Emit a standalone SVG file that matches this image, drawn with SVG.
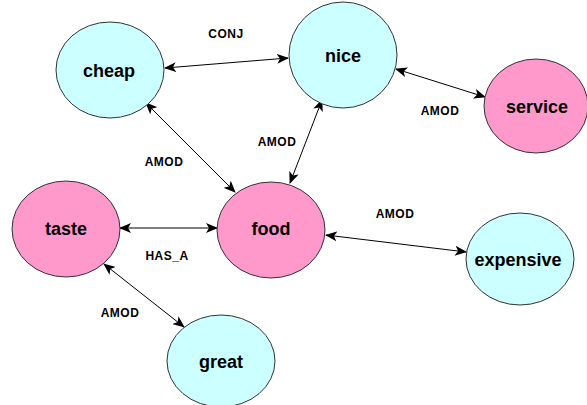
<svg xmlns="http://www.w3.org/2000/svg" width="587" height="405" viewBox="0 0 587 405">
<style>
.n{stroke:#333;stroke-width:1}
.c{fill:#ccffff}
.p{fill:#ff99cc}
.t{font-family:"Liberation Sans",Arial,sans-serif;font-weight:bold;font-size:18px;fill:#000;text-anchor:middle}
.l{font-family:"Liberation Sans",Arial,sans-serif;font-weight:bold;font-size:12px;fill:#000;text-anchor:middle;letter-spacing:0.5px}
.e{stroke:#000;stroke-width:1;fill:none;marker-start:url(#a);marker-end:url(#a)}
</style>
<defs>
<marker id="a" viewBox="0 0 12 10" refX="11" refY="5" markerWidth="12" markerHeight="10" markerUnits="userSpaceOnUse" orient="auto-start-reverse">
<path d="M0,0 L12,5 L0,10 L3,5 Z" fill="#000"/>
</marker>
</defs>
<rect width="587" height="405" fill="#fff"/>
<g id="connectors">
<line class="e" x1="165" y1="68" x2="288" y2="58"/>
<line class="e" x1="396" y1="69" x2="485" y2="97"/>
<line class="e" x1="146" y1="103" x2="235" y2="192"/>
<line class="e" x1="322" y1="100" x2="290" y2="183"/>
<line class="e" x1="120" y1="228" x2="217" y2="228"/>
<line class="e" x1="326" y1="235" x2="466" y2="252"/>
<line class="e" x1="104" y1="264" x2="184" y2="327"/>
<text class="l" x="226" y="38">CONJ</text>
<text class="l" x="440" y="115">AMOD</text>
<text class="l" x="164" y="166">AMOD</text>
<text class="l" x="277" y="146">AMOD</text>
<text class="l" x="167" y="260">HAS_A</text>
<text class="l" x="395" y="218">AMOD</text>
<text class="l" x="120" y="317">AMOD</text>
</g>
<g id="cheap"><ellipse class="n c" cx="110" cy="70" rx="54" ry="48"/><text class="t" x="109" y="77">cheap</text></g>
<g id="nice"><ellipse class="n c" cx="343" cy="55" rx="54" ry="53"/><text class="t" x="343" y="62">nice</text></g>
<g id="service"><ellipse class="n p" cx="536" cy="106" rx="52" ry="47"/><text class="t" x="537" y="113">service</text></g>
<g id="taste"><ellipse class="n p" cx="66" cy="229" rx="54" ry="48"/><text class="t" x="66" y="235">taste</text></g>
<g id="food"><ellipse class="n p" cx="271" cy="230" rx="54" ry="48"/><text class="t" x="271" y="235">food</text></g>
<g id="expensive"><ellipse class="n c" cx="520" cy="259" rx="54" ry="46"/><text class="t" x="518" y="266">expensive</text></g>
<g id="great"><ellipse class="n c" cx="221" cy="361" rx="54" ry="46"/><text class="t" x="221" y="368">great</text></g>
</svg>
